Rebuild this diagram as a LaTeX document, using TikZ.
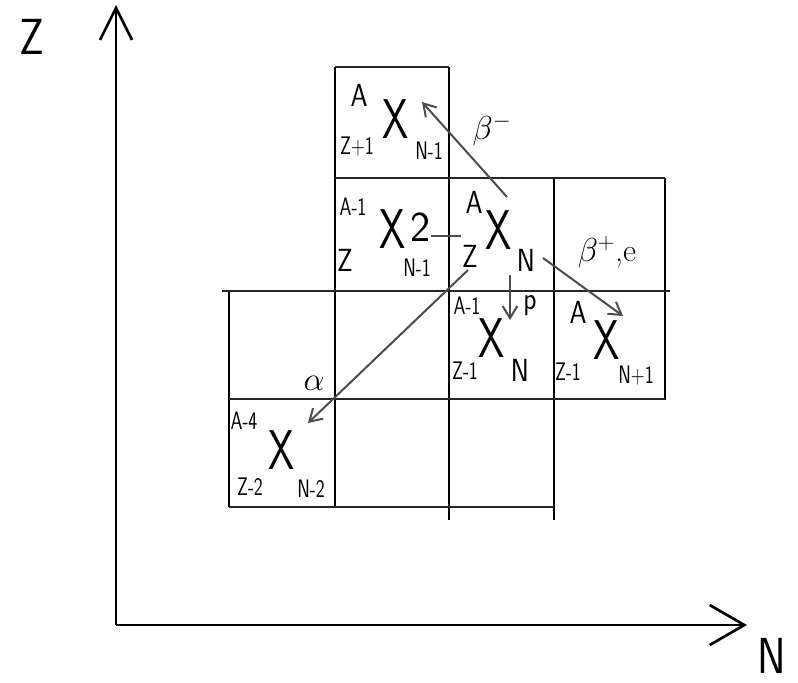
\documentclass[tikz,border=0pt]{standalone}
\usetikzlibrary{arrows.meta}
\begin{document}
\begin{tikzpicture}[x=0.75pt,y=-0.75pt,
  grid/.style={line width=1.3pt,black!85},
  vgrid/.style={line width=2pt,black},
  axis/.style={line width=2pt,black},
  decay/.style={line width=1.5pt,black!70,-{Straight Barb[length=9pt,width=11pt,line width=1.5pt]}},
  lbl/.style={font=\fontsize{24}{24}\sffamily,inner sep=0pt,xscale=0.85},
  sm/.style={font=\fontsize{19}{19}\sffamily,inner sep=0pt,xscale=0.75},
  bigx/.style={font=\fontsize{42}{42}\sffamily,inner sep=0pt,xscale=0.75},
  axlbl/.style={font=\fontsize{38}{38}\sffamily,inner sep=0pt,xscale=0.85}]
\useasboundingbox (0,0) rectangle (798,682);
% axes
\coordinate (O) at (116,625);
\coordinate (ztop) at (116,5);
\coordinate (nend) at (747,625);
\draw[axis,-{Straight Barb[length=24pt,width=24pt,line width=2pt]}] (O) -- (ztop);
\draw[axis,-{Straight Barb[length=26pt,width=30pt,line width=2pt]}] (O) -- (nend);
\node[axlbl] (zlab) at (32,37) {Z};
\node[axlbl] (nlab) at (772,656) {N};
% grid
\draw[vgrid] (335,67) -- (335,507);
\draw[vgrid] (449,67) -- (449,520);
\draw[vgrid] (554,178) -- (554,520);
\draw[vgrid] (665,178) -- (665,400);
\draw[vgrid] (229,290) -- (229,507);
\draw[grid] (335,67) -- (449,67);
\draw[grid] (335,178) -- (665,178);
\draw[grid] (222,291) -- (670,291);
\draw[grid] (229,399) -- (665,399);
\draw[grid] (229,507) -- (554,507);
% top cell
\node[lbl] (a1) at (359,95) {A};
\node[bigx] (x1) at (396,119) {X};
\node[sm] (z1) at (357,147) {Z+1};
\node[sm] (n1) at (429,151) {N-1};
% left middle
\node[sm] (a2) at (353,207) {A-1};
\node[bigx] (x2) at (393,229) {X};
\node[font=\fontsize{32}{32}\sffamily,inner sep=0pt] (two) at (421,227) {2};
\node[lbl] (z2) at (345,260) {Z};
\node[sm] (n2) at (417,268) {N-1};
% centre
\node[lbl] (a3) at (474,202) {A};
\node[bigx] (x3) at (499,230) {X};
\node[lbl] (z3) at (470,256) {Z};
\node[lbl] (n3) at (526,260) {N};
% row 3 centre
\node[sm] (a4) at (467,306) {A-1};
\node[bigx] (x4) at (492,338) {X};
\node[sm] (z4) at (465,371) {Z-1};
\node[lbl] (n4) at (520,370) {N};
% row 3 right
\node[lbl] (a5) at (578,312) {A};
\node[bigx] (x5) at (607,340) {X};
\node[sm] (z5) at (568,372) {Z-1};
\node[sm] (n5) at (636,376) {N+1};
% bottom left
\node[sm] (a6) at (244,421) {A-4};
\node[bigx] (x6) at (282,450) {X};
\node[sm] (z6) at (250,487) {Z-2};
\node[sm] (n6) at (311,489) {N-2};
% decay arrows
\coordinate (bmS) at (507,197);
\coordinate (bmE) at (422,102);
\draw[decay] (bmS) -- (bmE);
\node[font=\fontsize{24}{24}\selectfont,inner sep=0pt] (bm) at (492,130) {$\beta^-$};
\coordinate (nS) at (461,236);
\coordinate (nE) at (431,236);
\draw[line width=1.5pt,black!70] (nS) -- (nE);
\coordinate (pS) at (510,275);
\coordinate (pE) at (510,320);
\draw[decay] (pS) -- (pE);
\node[lbl] (pl) at (530,306) {p};
\coordinate (bpS) at (543,258);
\coordinate (bpE) at (623,316);
\draw[decay] (bpS) -- (bpE);
\node[font=\fontsize{24}{24}\selectfont,inner sep=0pt] (bp) at (607,252) {$\beta^+$,e};
\coordinate (aS) at (468,270);
\coordinate (aE) at (308,423);
\draw[decay] (aS) -- (aE);
\node[font=\fontsize{26}{26}\selectfont,inner sep=0pt] (al) at (314,383) {$\alpha$};
\end{tikzpicture}
\end{document}
